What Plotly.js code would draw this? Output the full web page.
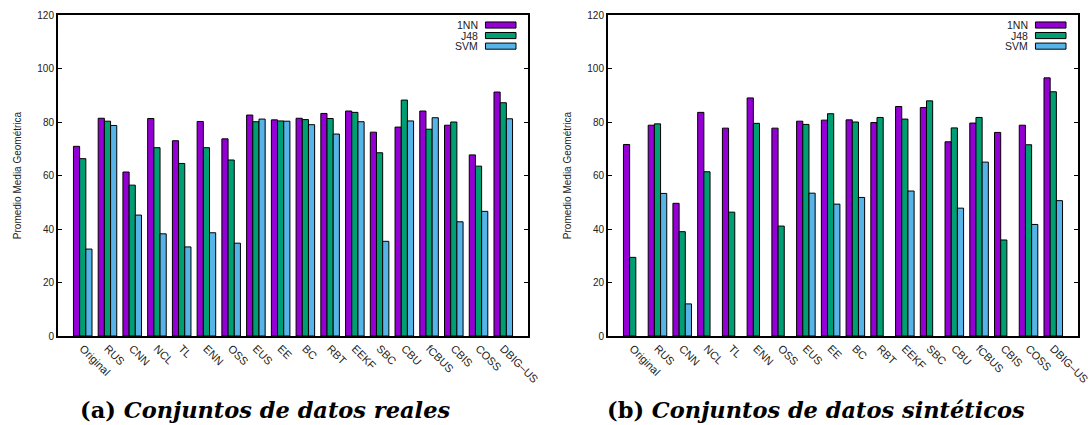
<!DOCTYPE html>
<html>
<head>
<meta charset="utf-8">
<script src="https://cdn.plot.ly/plotly-3.0.1.min.js"></script>
<style>html,body{margin:0;padding:0;background:#fff;}#chart{width:1090px;height:425px;}</style>
</head>
<body>
<div id="chart"></div>
<script>
const categories = ["Original","RUS","CNN","NCL","TL","ENN","OSS","EUS","EE","BC","RBT","EEKF","SBC","CBU","fCBUS","CBIS","COSS","DBIG\u2013US"];
const seriesNames = ["1NN","J48","SVM"];
const seriesColors = ["#9400D3","#009E73","#56B4E9"];

// (a) Conjuntos de datos reales
const real1NN = [70.9,81.4,61.3,81.3,73.0,80.2,73.7,82.6,80.8,81.4,83.2,84.1,76.2,78.1,84.1,78.8,67.7,91.2];
const realJ48 = [66.3,80.3,56.4,70.4,64.5,70.4,65.8,80.1,80.4,80.9,81.3,83.6,68.5,88.2,77.3,80.0,63.5,87.2];
const realSVM = [32.5,78.7,45.2,38.2,33.3,38.6,34.7,81.1,80.3,79.0,75.5,80.1,35.4,80.4,81.6,42.7,46.6,81.2];

// (b) Conjuntos de datos sintéticos (null = no bar drawn)
const syn1NN = [71.6,78.8,49.6,83.6,77.7,89.0,77.7,80.3,80.7,80.8,79.8,85.8,85.4,72.6,79.6,76.1,78.8,96.5];
const synJ48 = [29.4,79.3,39.0,61.4,46.3,79.5,41.1,79.1,83.1,80.0,81.7,81.1,87.9,77.8,81.7,35.9,71.5,91.3];
const synSVM = [null,53.3,12.0,null,null,null,null,53.4,49.3,51.8,null,54.2,null,47.8,65.0,null,41.7,50.6];

const yTitle = "Promedio Media Geométrica";
const captions = ["<b>(a) <i>Conjuntos de datos reales</i></b>", "<b>(b) <i>Conjuntos de datos sintéticos</i></b>"];
const yTicks = [0,20,40,60,80,100,120];

const xIdx = categories.map((c,i)=>i);
const panels = [[real1NN,realJ48,realSVM],[syn1NN,synJ48,synSVM]];
const traces = [];
panels.forEach((sets,p)=>{
  sets.forEach((vals,s)=>{
    traces.push({
      type:'bar', x:xIdx, y:vals, name:seriesNames[s],
      xaxis: p===0?'x':'x2', yaxis: p===0?'y':'y2',
      marker:{color:seriesColors[s], line:{color:'#000', width:1}},
      showlegend:false, hoverinfo:'skip'
    });
  });
});

const tickFont = {family:'Liberation Sans, Arial, sans-serif', size:10, color:'#222'};
const xTickFont = {family:'Liberation Sans, Arial, sans-serif', size:11, color:'#222'};
function xax(domain){
  return {domain:domain, range:[-1,18], tickmode:'array', tickvals:xIdx, ticktext:categories,
    tickangle:45, tickfont:xTickFont, ticklabeloverflow:'allow', showline:true, mirror:true, linecolor:'#000', linewidth:2,
    ticks:'', showgrid:false, zeroline:false, fixedrange:true};
}
function yax(anchor){
  return {domain:[0.2094,0.9647], range:[0,120], tickmode:'array', tickvals:yTicks,
    tickfont:tickFont, showline:true, mirror:'ticks', linecolor:'#000', linewidth:2,
    ticks:'inside', ticklen:4, tickwidth:1, tickcolor:'#000', showgrid:false, zeroline:false,
    anchor:anchor, title:{text:yTitle, font:{family:'Liberation Sans, Arial, sans-serif', size:10, color:'#222'}, standoff:14}, fixedrange:true};
}

const shapes = [];
const annotations = [];
const legendY = [0.9688, 0.936, 0.903];
['x','x2'].forEach((xa,p)=>{
  const ya = p===0?'y':'y2';
  seriesNames.forEach((n,s)=>{
    shapes.push({type:'rect', xref:xa+' domain', yref:ya+' domain', x0:0.9095, x1:0.9745,
      y0:legendY[s]-0.0095, y1:legendY[s]+0.0095, fillcolor:seriesColors[s], line:{color:'#000', width:1}});
    annotations.push({xref:xa+' domain', yref:ya+' domain', x:0.898, y:legendY[s], xanchor:'right', yanchor:'middle',
      text:n, showarrow:false, font:{family:'Liberation Sans, Arial, sans-serif', size:10.5, color:'#222'}});
  });
});
annotations.push({xref:'paper', yref:'paper', x:265/1090, y:1-410/425, xanchor:'center', yanchor:'middle', showarrow:false,
  text:captions[0], font:{family:'DejaVu Serif, serif', size:22.5, color:'#000'}});
annotations.push({xref:'paper', yref:'paper', x:816/1090, y:1-410/425, xanchor:'center', yanchor:'middle', showarrow:false,
  text:captions[1], font:{family:'DejaVu Serif, serif', size:22.5, color:'#000'}});

const layout = {
  width:1090, height:425, margin:{l:0,r:0,t:0,b:0},
  paper_bgcolor:'#fff', plot_bgcolor:'#fff',
  barmode:'group', bargap:0.25, bargroupgap:0,
  xaxis: xax([58/1090, 528/1090]), yaxis: yax('x'),
  xaxis2: Object.assign(xax([608/1090, 1078/1090]), {anchor:'y2'}), yaxis2: yax('x2'),
  shapes:shapes, annotations:annotations, showlegend:false
};
layout.xaxis.anchor='y';
Plotly.newPlot('chart', traces, layout, {displayModeBar:false, staticPlot:true});
</script>
</body>
</html>
